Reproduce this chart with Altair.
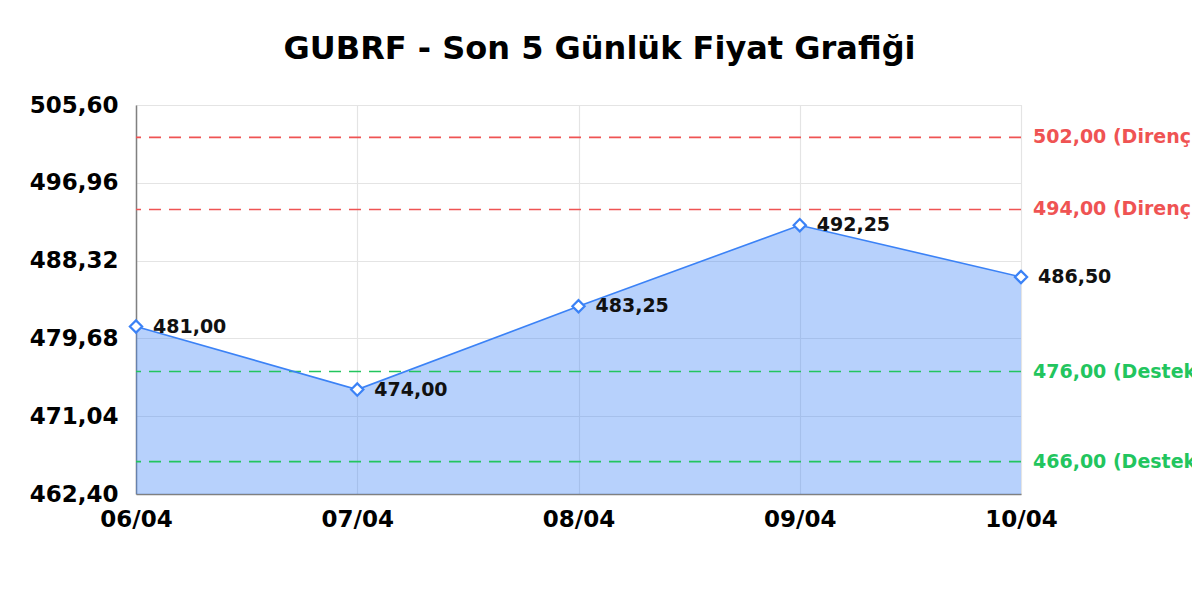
import altair as alt
import pandas as pd

dates = ["06/04", "07/04", "08/04", "09/04", "10/04"]
prices = [481.00, 474.00, 483.25, 492.25, 486.50]
price_labels = ["481,00", "474,00", "483,25", "492,25", "486,50"]

level_values = [502.0, 494.0, 476.0, 466.0]
level_labels = ["502,00 (Direnç)", "494,00 (Direnç)", "476,00 (Destek)", "466,00 (Destek)"]
level_kinds = ["Direnç", "Direnç", "Destek", "Destek"]

y_ticks = [462.40, 471.04, 479.68, 488.32, 496.96, 505.60]
y_domain = [462.40, 505.60]

FONT = "DejaVu Sans"
BLUE = "#3b82f6"
RED = "#ef5353"
GREEN = "#22c55e"

df = pd.DataFrame({"date": dates, "price": prices, "label": price_labels})
lv = pd.DataFrame({"value": level_values, "label": level_labels, "kind": level_kinds})

x_enc = alt.X(
    "date:O",
    sort=dates,
    scale=alt.Scale(type="point", padding=0),
    axis=alt.Axis(
        title=None, labelAngle=0, labelFont=FONT, labelFontSize=23,
        labelFontWeight="bold", labelColor="#000000", labelPadding=14,
        ticks=False, tickSize=0, grid=True, gridColor="#e4e4e4", gridWidth=1.2,
        domainColor="#808080", domainWidth=1.5,
    ),
)
y_scale = alt.Scale(domain=y_domain, nice=False, zero=False)
y_enc = alt.Y(
    "price:Q",
    scale=y_scale,
    axis=alt.Axis(
        title=None, values=y_ticks,
        labelExpr="replace(format(datum.value, '.2f'), '.', ',')",
        labelFont=FONT, labelFontSize=23, labelFontWeight="bold",
        labelColor="#000000", labelPadding=18, ticks=False, tickSize=0,
        grid=True, gridColor="#e4e4e4", gridWidth=1.2,
        domainColor="#808080", domainWidth=1.5,
    ),
)

base = alt.Chart(df)

area = base.mark_area(color=BLUE, opacity=0.37).encode(
    x=x_enc, y=y_enc, y2=alt.datum(y_domain[0])
)

color_scale = alt.Scale(domain=["Direnç", "Destek"], range=[RED, GREEN])

rules = alt.Chart(lv).mark_rule(strokeDash=[12, 8], strokeWidth=1.6).encode(
    y=alt.Y("value:Q", scale=y_scale),
    color=alt.Color("kind:N", scale=color_scale, legend=None),
)

rule_text = alt.Chart(lv).mark_text(
    align="left", baseline="middle", font=FONT, fontSize=19,
    fontWeight="bold", dx=12,
).encode(
    x=alt.value(885),
    y=alt.Y("value:Q", scale=y_scale),
    text="label:N",
    color=alt.Color("kind:N", scale=color_scale, legend=None),
)

line = base.mark_line(color=BLUE, strokeWidth=1.6).encode(x=x_enc, y=y_enc)

points = base.mark_point(
    shape="diamond", filled=True, fill="#ffffff", stroke=BLUE,
    strokeWidth=2.2, size=150, opacity=1,
).encode(x=x_enc, y=y_enc)

labels = base.mark_text(
    align="left", baseline="middle", font=FONT, fontSize=19,
    fontWeight="bold", color="#111111", dx=17,
).encode(x=x_enc, y=y_enc, text="label:N")

chart = alt.layer(area, rules, line, points, labels, rule_text).properties(
    width=885,
    height=389,
    title=alt.TitleParams(
        "GUBRF - Son 5 Günlük Fiyat Grafiği",
        font=FONT, fontSize=32, fontWeight="bold", color="#000000",
        anchor="middle", offset=28, dx=21,
    ),
    autosize=alt.AutoSizeParams(type="none"),
    padding={"left": 128, "top": 97, "right": 171, "bottom": 90},
).configure_view(stroke=None).configure(background="#ffffff")

chart.save("out.html", embed_options={"renderer": "svg", "actions": False})
